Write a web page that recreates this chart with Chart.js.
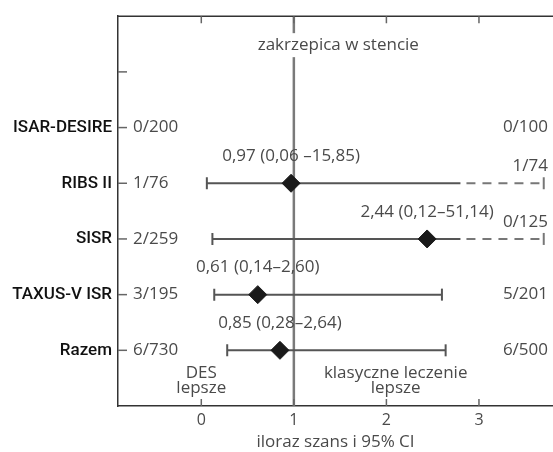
<!DOCTYPE html>
<html>
<head>
<meta charset="utf-8">
<script src="https://cdn.jsdelivr.net/npm/chart.js@4/dist/chart.umd.min.js"></script>
<style>
  html, body { margin: 0; padding: 0; background: #fff; overflow: hidden; }
  #wrap { width: 553px; height: 452px; position: relative; }
  canvas { display: block; }
</style>
</head>
<body>
<div id="wrap"><canvas id="forestPlot"></canvas></div>
<script>
// dane z wykresu
const studies = ['ISAR-DESIRE', 'RIBS II', 'SISR', 'TAXUS-V ISR', 'Razem'];
const desCounts = ['0/200', '1/76', '2/259', '3/195', '6/730'];
const controlCounts = ['0/100', '1/74', '0/125', '5/201', '6/500'];
const oddsRatio = [null, 0.97, 2.44, 0.61, 0.85];
const ciLow = [null, 0.06, 0.12, 0.14, 0.28];
const ciHigh = [null, 15.85, 51.14, 2.60, 2.64];
const estimateLabels = [null, '0,97 (0,06 \u201315,85)', '2,44 (0,12\u201351,14)', '0,61 (0,14\u20132,60)', '0,85 (0,28\u20132,64)'];
const xTicks = [0, 1, 2, 3];
const xMin = -0.9;
const xMax = 3.8;
// ucięte przedziały: linia ciągła do 2,8, dalej przerywana
const truncSolidEnd = 2.8;
const truncDashEnd = 3.7;

const FONT = "'Open Sans', sans-serif";
const LABEL_FONT = "Roboto, sans-serif";
const TEXT_COLOR = '#4a4a4a';

const points = [];
studies.forEach(function (s, i) {
  if (oddsRatio[i] !== null) {
    points.push({ x: oddsRatio[i], y: i + 2 });
  }
});

const forestPlugin = {
  id: 'forest',
  beforeDatasetsDraw(chart) {
    const ctx = chart.ctx;
    const xs = chart.scales.x;
    const ys = chart.scales.y;
    const area = chart.chartArea;
    ctx.save();

    // linia odniesienia OR = 1
    ctx.strokeStyle = '#7a7a7a';
    ctx.lineWidth = 2.5;
    ctx.beginPath();
    ctx.moveTo(xs.getPixelForValue(1), area.top);
    ctx.lineTo(xs.getPixelForValue(1), area.bottom);
    ctx.stroke();

    // górna ramka + ticki do środka
    ctx.strokeStyle = '#333';
    ctx.lineWidth = 1.5;
    ctx.beginPath();
    ctx.moveTo(area.left, area.top);
    ctx.lineTo(area.right, area.top);
    ctx.stroke();
    ctx.strokeStyle = '#666';
    ctx.lineWidth = 1.5;
    xTicks.forEach(function (v) {
      const px = xs.getPixelForValue(v);
      ctx.beginPath();
      ctx.moveTo(px, area.top);
      ctx.lineTo(px, area.top + 7);
      ctx.moveTo(px, area.bottom);
      ctx.lineTo(px, area.bottom - 7);
      ctx.stroke();
    });
    ys.ticks.forEach(function (t) {
      const py = ys.getPixelForValue(t.value);
      ctx.beginPath();
      ctx.moveTo(area.left, py);
      ctx.lineTo(area.left + 9, py);
      ctx.stroke();
    });

    // przedziały ufności
    ctx.lineWidth = 2;
    studies.forEach(function (s, i) {
      if (oddsRatio[i] === null) return;
      const py = ys.getPixelForValue(i + 2);
      const x0 = xs.getPixelForValue(ciLow[i]);
      const truncated = ciHigh[i] > xMax;
      const x1 = xs.getPixelForValue(truncated ? truncSolidEnd : ciHigh[i]);
      ctx.setLineDash([]);
      ctx.strokeStyle = '#555';
      ctx.beginPath();
      ctx.moveTo(x0, py);
      ctx.lineTo(x1, py);
      ctx.moveTo(x0, py - 6);
      ctx.lineTo(x0, py + 6);
      ctx.stroke();
      let capX = x1;
      if (truncated) {
        capX = xs.getPixelForValue(truncDashEnd);
        ctx.strokeStyle = '#777';
        ctx.setLineDash([9, 7]);
        ctx.beginPath();
        ctx.moveTo(x1 + 6, py);
        ctx.lineTo(capX, py);
        ctx.stroke();
        ctx.setLineDash([]);
      }
      ctx.beginPath();
      ctx.moveTo(capX, py - 6);
      ctx.lineTo(capX, py + 6);
      ctx.stroke();
    });
    ctx.restore();
  },
  afterDraw(chart) {
    const ctx = chart.ctx;
    const xs = chart.scales.x;
    const ys = chart.scales.y;
    const area = chart.chartArea;
    ctx.save();
    ctx.font = '17px ' + FONT;
    ctx.textBaseline = 'middle';

    // nagłówek na tle białym (przerywa linię OR = 1)
    const title = 'zakrzepica w stencie';
    const tx = xs.getPixelForValue(1.48);
    const ty = ys.getPixelForValue(0.52);
    const tw = ctx.measureText(title).width;
    ctx.fillStyle = '#fff';
    ctx.fillRect(tx - tw / 2 - 2, ty - 12, tw + 4, 24);
    ctx.fillStyle = TEXT_COLOR;
    ctx.textAlign = 'center';
    ctx.fillText(title, tx, ty);

    studies.forEach(function (s, i) {
      const py = ys.getPixelForValue(i + 2);
      ctx.textAlign = 'left';
      ctx.fillText(desCounts[i], area.left + 15, py);
      ctx.textAlign = 'right';
      const raised = ciHigh[i] !== null && ciHigh[i] > xMax;
      ctx.fillText(controlCounts[i], area.right - 5, raised ? py - 17 : py);
      if (estimateLabels[i]) {
        ctx.textAlign = 'center';
        ctx.fillText(estimateLabels[i], xs.getPixelForValue(oddsRatio[i]), py - 27);
      }
    });

    // opisy stron
    ctx.textAlign = 'center';
    ctx.fillText('DES', xs.getPixelForValue(0), ys.getPixelForValue(6.41));
    ctx.fillText('lepsze', xs.getPixelForValue(0), ys.getPixelForValue(6.68));
    ctx.fillText('klasyczne leczenie', xs.getPixelForValue(2.1), ys.getPixelForValue(6.41));
    ctx.fillText('lepsze', xs.getPixelForValue(2.1), ys.getPixelForValue(6.68));
    ctx.restore();
  }
};

new Chart(document.getElementById('forestPlot'), {
  type: 'scatter',
  data: {
    datasets: [
      {
        data: points,
        pointStyle: 'rectRot',
        pointRadius: 9,
        pointHoverRadius: 9,
        backgroundColor: '#1a1a1a',
        borderColor: '#1a1a1a',
        borderWidth: 1,
      },
    ],
  },
  options: {
    responsive: true,
    maintainAspectRatio: false,
    animation: false,
    layout: { autoPadding: false, padding: { top: 13, right: 0, left: 0, bottom: 0 } },
    plugins: {
      legend: { display: false },
      tooltip: { enabled: false },
    },
    scales: {
      x: {
        type: 'linear',
        min: xMin,
        max: xMax,
        afterBuildTicks: function (scale) {
          scale.ticks = xTicks.map(function (v) { return { value: v }; });
        },
        afterFit: function (scale) { scale.height = 46; },
        grid: { display: true, drawOnChartArea: false, drawTicks: false },
        border: { display: true, color: '#333', width: 1.5 },
        ticks: {
          padding: 5,
          color: TEXT_COLOR,
          font: { family: FONT, size: 16 },
        },
        title: {
          display: true,
          text: 'iloraz szans i 95% CI',
          color: TEXT_COLOR,
          font: { family: FONT, size: 17 },
          padding: { top: 0, bottom: 0 },
        },
      },
      y: {
        type: 'linear',
        reverse: true,
        min: 0,
        max: 7,
        afterBuildTicks: function (scale) {
          scale.ticks = [1, 2, 3, 4, 5, 6].map(function (v) { return { value: v }; });
        },
        afterFit: function (scale) { scale.width = 118; },
        grid: { display: true, drawOnChartArea: false, drawTicks: false },
        border: { display: true, color: '#333', width: 1.5 },
        ticks: {
          padding: 6,
          color: '#111',
          font: { family: LABEL_FONT, size: 17, weight: '500' },
          callback: function (v) { return studies[v - 2] || ''; },
        },
      },
    },
  },
  plugins: [forestPlugin],
});
</script>
</body>
</html>
